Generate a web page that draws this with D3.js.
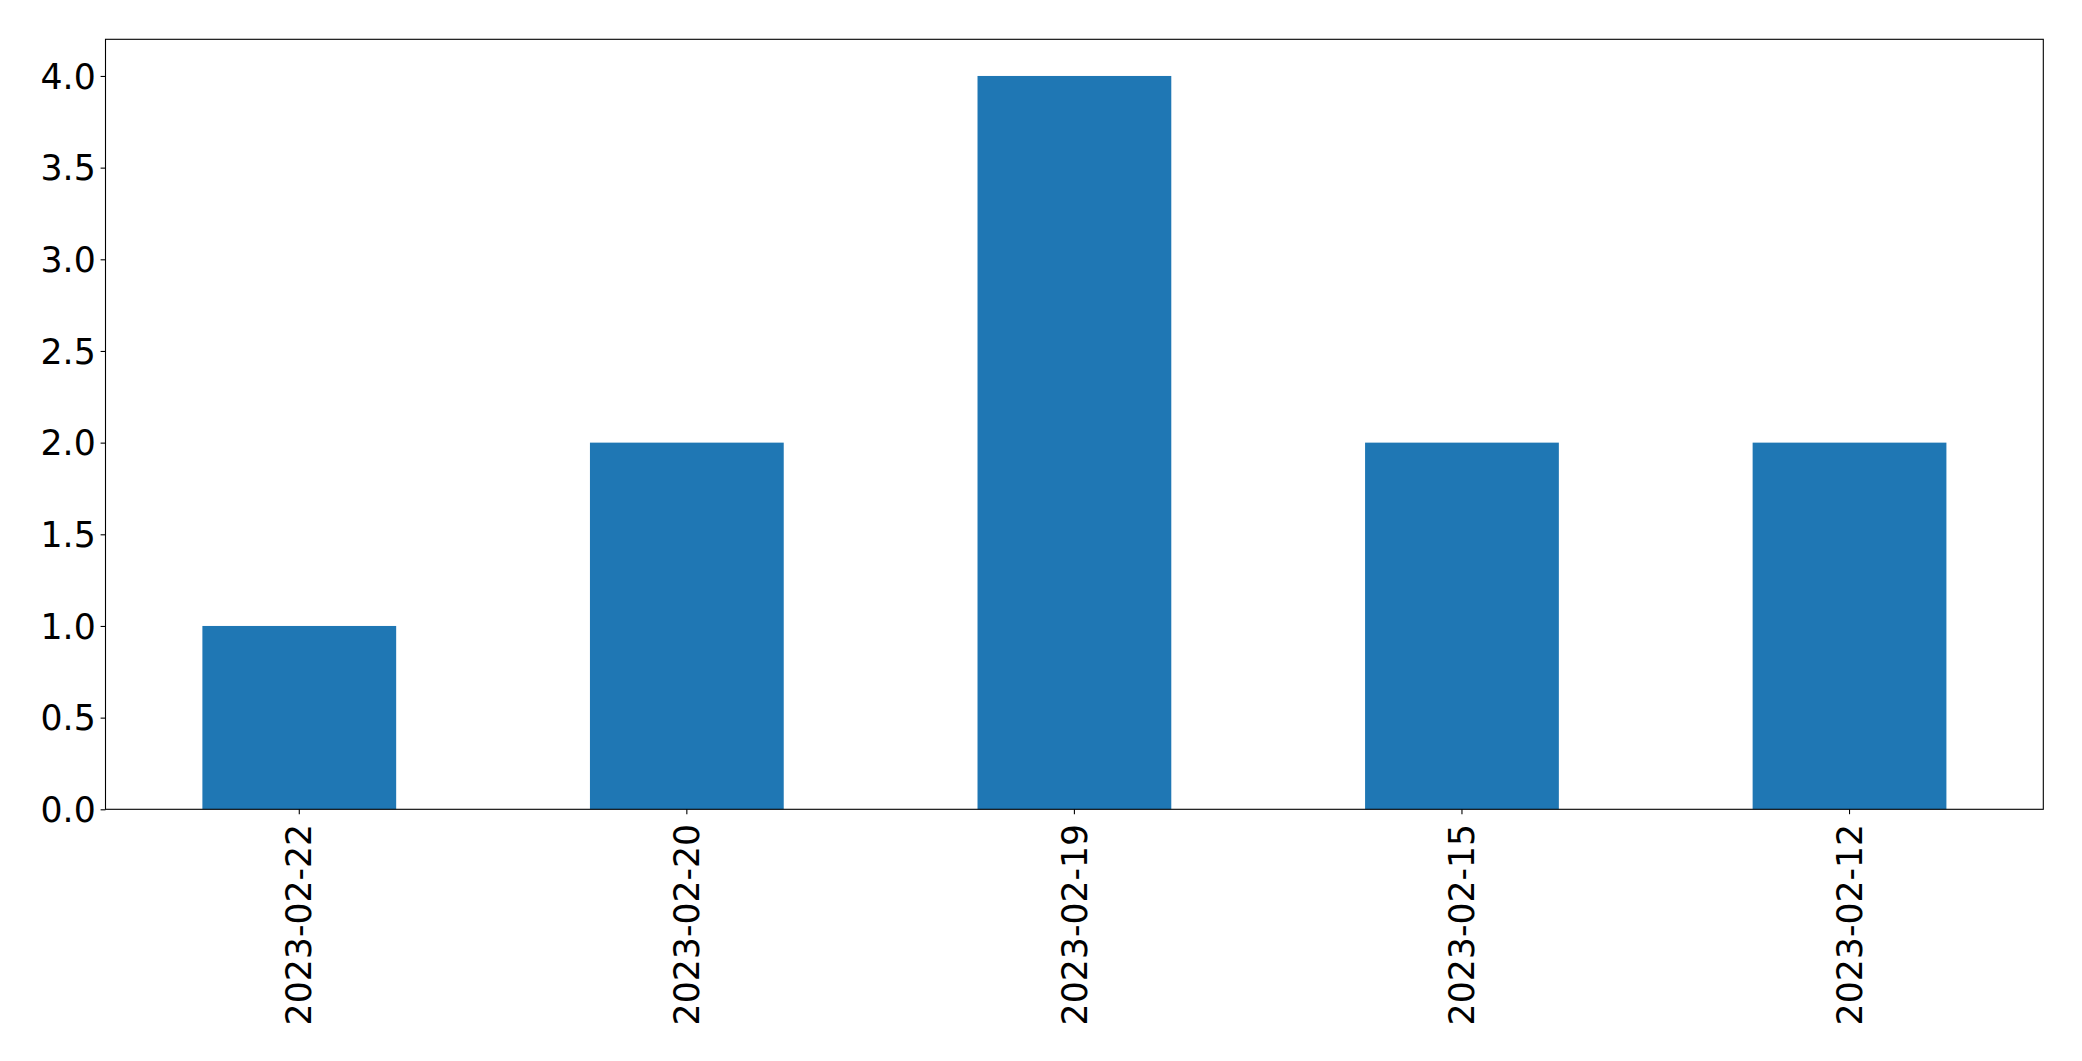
<!DOCTYPE html>
<html><head><meta charset="utf-8">
<script src="https://cdn.jsdelivr.net/npm/d3@7"></script>
<style>html,body{margin:0;padding:0;background:#fff;}svg{display:block;}</style>
</head><body>
<script>
const categories = ["2023-02-22","2023-02-20","2023-02-19","2023-02-15","2023-02-12"];
const values = [1, 2, 4, 2, 2];
const yTicks = [0, 0.5, 1.0, 1.5, 2.0, 2.5, 3.0, 3.5, 4.0];

const W = 2082, H = 1061;
const L = 105.5, R = 2043.3, T = 39.3, B = 809.3;
const svg = d3.select("body").append("svg").attr("width", W).attr("height", H);

const x = d3.scaleBand().domain(categories).range([L, R]).paddingInner(0.5).paddingOuter(0.25);
const y = d3.scaleLinear().domain([0, 4.2]).range([B, T]);

svg.append("g").selectAll("rect").data(values).join("rect")
  .attr("x", (d, i) => x(categories[i]))
  .attr("width", x.bandwidth())
  .attr("y", d => y(d))
  .attr("height", d => y(0) - y(d))
  .attr("fill", "#1f77b4");

const font = "DejaVu Sans, sans-serif";
const fs = 34.7;

const ya = svg.append("g").attr("transform", `translate(${L},0)`)
  .call(d3.axisLeft(y).tickValues(yTicks).tickFormat(d3.format(".1f")).tickSize(4.9).tickPadding(4.9));
ya.select(".domain").remove();
ya.selectAll("line").attr("stroke", "#000").attr("stroke-width", 1.1);
ya.selectAll("text").attr("font-family", font).attr("font-size", fs).attr("fill", "#000").attr("dy", "0.35em");

const xa = svg.append("g").attr("transform", `translate(0,${B})`)
  .call(d3.axisBottom(x).tickSize(4.9).tickPadding(0));
xa.select(".domain").remove();
xa.selectAll("line").attr("stroke", "#000").attr("stroke-width", 1.1);
xa.selectAll("text").attr("font-family", font).attr("font-size", fs).attr("fill", "#000")
  .attr("transform", "translate(0,14.5) rotate(-90)")
  .attr("text-anchor", "end").attr("x", 0).attr("y", 0).attr("dy", "0.35em");

svg.append("rect").attr("x", L).attr("y", T).attr("width", R - L).attr("height", B - T)
  .attr("fill", "none").attr("stroke", "#000").attr("stroke-width", 1.1);
</script>
</body></html>
